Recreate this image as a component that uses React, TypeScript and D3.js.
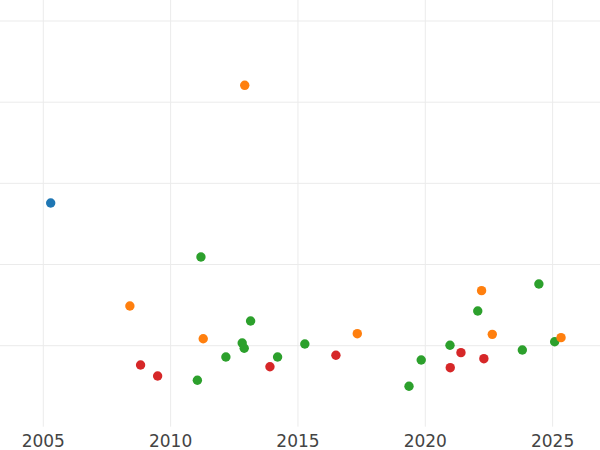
import React from "react";
import * as d3 from "d3";

const blueX = [2005.29];
const blueY = [1.758];

const greenX = [2011.19, 2013.14, 2012.81, 2012.89, 2012.17, 2014.2, 2011.05, 2015.27, 2019.36, 2019.84, 2020.97, 2022.06, 2023.81, 2024.46, 2025.08];
const greenY = [1.093, 0.304, 0.033, -0.032, -0.139, -0.139, -0.426, 0.021, -0.5, -0.176, 0.005, 0.427, -0.053, 0.76, 0.049];

const redX = [2008.82, 2009.49, 2013.9, 2016.49, 2020.98, 2021.4, 2022.3];
const redY = [-0.238, -0.373, -0.259, -0.118, -0.271, -0.086, -0.16];

const orangeX = [2012.91, 2008.4, 2011.28, 2017.33, 2022.21, 2022.63, 2025.33];
const orangeY = [3.208, 0.489, 0.086, 0.148, 0.678, 0.14, 0.099];

const xTicks = [2005, 2010, 2015, 2020, 2025];
const yGrid = [0, 1, 2, 3, 4];

const series = [
  { xs: blueX, ys: blueY, color: "#1f77b4" },
  { xs: greenX, ys: greenY, color: "#2ca02c" },
  { xs: redX, ys: redY, color: "#d62728" },
  { xs: orangeX, ys: orangeY, color: "#ff7f0e" },
];

export default function App() {
  const W = 600;
  const H = 450;
  const plotBottom = 426.7;
  const x = d3.scaleLinear().domain([2003.3, 2026.86]).range([0, W]);
  const y = d3.scaleLinear().domain([-0.998, 4.259]).range([plotBottom, 0]);
  return (
    <svg
      width={W}
      height={H}
      style={{ position: "absolute", left: 0, top: 0, background: "#fff" }}
      fontFamily="DejaVu Sans"
    >
      <g>
        {yGrid.map((v) => (
          <line key={"h" + v} x1={0} x2={W} y1={y(v)} y2={y(v)} stroke="#ebebeb" strokeWidth={1} />
        ))}
        {xTicks.map((t) => (
          <line key={"v" + t} x1={x(t)} x2={x(t)} y1={0} y2={plotBottom} stroke="#ebebeb" strokeWidth={1} />
        ))}
      </g>
      <g>
        {series.map((s, si) =>
          s.xs.map((xv, i) => (
            <circle key={si + "-" + i} cx={x(xv)} cy={y(s.ys[i])} r={4.7} fill={s.color} />
          ))
        )}
      </g>
      <g fill="#444" fontSize={17} textAnchor="middle">
        {xTicks.map((t) => (
          <text key={"t" + t} x={x(t)} y={447}>
            {t}
          </text>
        ))}
      </g>
    </svg>
  );
}
